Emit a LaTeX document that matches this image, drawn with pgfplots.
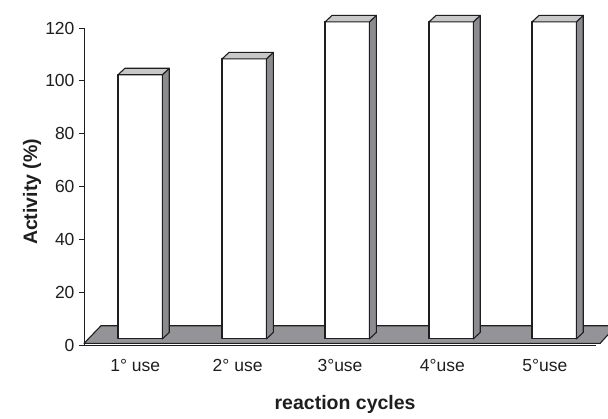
\documentclass[border=0pt]{standalone}
\usepackage{pgfplots}
\pgfplotsset{compat=1.18}
\usepackage{fontspec}
\setmainfont{Liberation Sans}
\definecolor{sidegray}{RGB}{140,140,144}
\definecolor{topgray}{RGB}{200,200,200}
\definecolor{floorgray}{RGB}{148,148,152}
\definecolor{ink}{RGB}{30,30,30}
\newcommand{\bw}{0.433}
\newcommand{\dx}{0.068}
\newcommand{\dy}{2.46}
\newcommand{\base}{2.3}
\newcommand{\tdbar}[2]{%
  \pgfmathsetmacro\xa{#1}%
  \pgfmathsetmacro\xb{#1+\bw}%
  \pgfmathsetmacro\xc{#1+\bw+\dx}%
  \pgfmathsetmacro\xd{#1+\dx}%
  \pgfmathsetmacro\yb{\base}%
  \pgfmathsetmacro\yt{\base+#2}%
  \pgfmathsetmacro\ybb{\base+\dy}%
  \pgfmathsetmacro\ytt{\base+#2+\dy}%
  \edef\temp{%
    \noexpand\addplot[fill=white,draw=ink,line width=1.1pt,line join=round] coordinates {(\xa,\yb)(\xb,\yb)(\xb,\yt)(\xa,\yt)} -- cycle;
    \noexpand\addplot[fill=sidegray,draw=ink,line width=1.1pt,line join=round] coordinates {(\xb,\yb)(\xc,\ybb)(\xc,\ytt)(\xb,\yt)} -- cycle;
    \noexpand\addplot[fill=topgray,draw=ink,line width=1.1pt,line join=round] coordinates {(\xa,\yt)(\xd,\ytt)(\xc,\ytt)(\xb,\yt)} -- cycle;
  }%
  \temp}
\begin{document}
\begin{tikzpicture}
\begin{axis}[
  scale only axis,
  width=512pt, height=317pt,
  xmin=0, xmax=5, ymin=0, ymax=120,
  clip=false,
  axis x line*=bottom, axis y line*=left,
  axis line style={ink, line width=0.9pt},
  ytick={0,20,...,120},
  xtick={0.5,1.5,2.5,3.5,4.5},
  xticklabels={1° use,2° use,3°use,4°use,5°use},
  extra x ticks={0,1,2,3,4,5},
  extra x tick labels={},
  extra x tick style={major tick length=5pt, tick style={ink, line width=0.9pt}},
  tick align=outside,
  major tick length=5pt,
  xtick style={draw=none},
  ytick style={ink, line width=0.9pt},
  tick label style={font=\fontsize{17.5}{20}\selectfont, text=ink},
  /pgf/number format/assume math mode=true,
  yticklabel style={xshift=-1pt},
  xticklabel style={yshift=-6pt},
  xlabel={\textbf{reaction cycles}},
  ylabel={\textbf{Activity (\%)}},
  label style={font=\fontsize{19.5}{22}\selectfont, text=ink},
  xlabel style={at={(rel axis cs:0.51,-0.189)}, anchor=center},
  ylabel style={at={(rel axis cs:-0.1016,0.483)}, anchor=center},
]
\coordinate (O) at (axis cs:0,0);
% floor
\addplot[fill=floorgray, draw=none] coordinates {(0,0.6)(0.166,7.3)(5.117,7.3)(5.117,3.9)(5.04,0.6)} -- cycle;
\addplot[draw=ink, line width=1.1pt, line join=round] coordinates {(5.117,3.9)(5.04,0.6)(0,0.6)(0.166,7.3)(5.117,7.3)};
% bars: left edge, value
\tdbar{0.332}{100}
\tdbar{1.348}{106}
\tdbar{2.354}{120}
\tdbar{3.369}{120}
\tdbar{4.375}{120}
\end{axis}
\pgfresetboundingbox
\path[use as bounding box] ([shift={(-84pt,-73pt)}]O) rectangle ([shift={(524pt,345pt)}]O);
\end{tikzpicture}
\end{document}
